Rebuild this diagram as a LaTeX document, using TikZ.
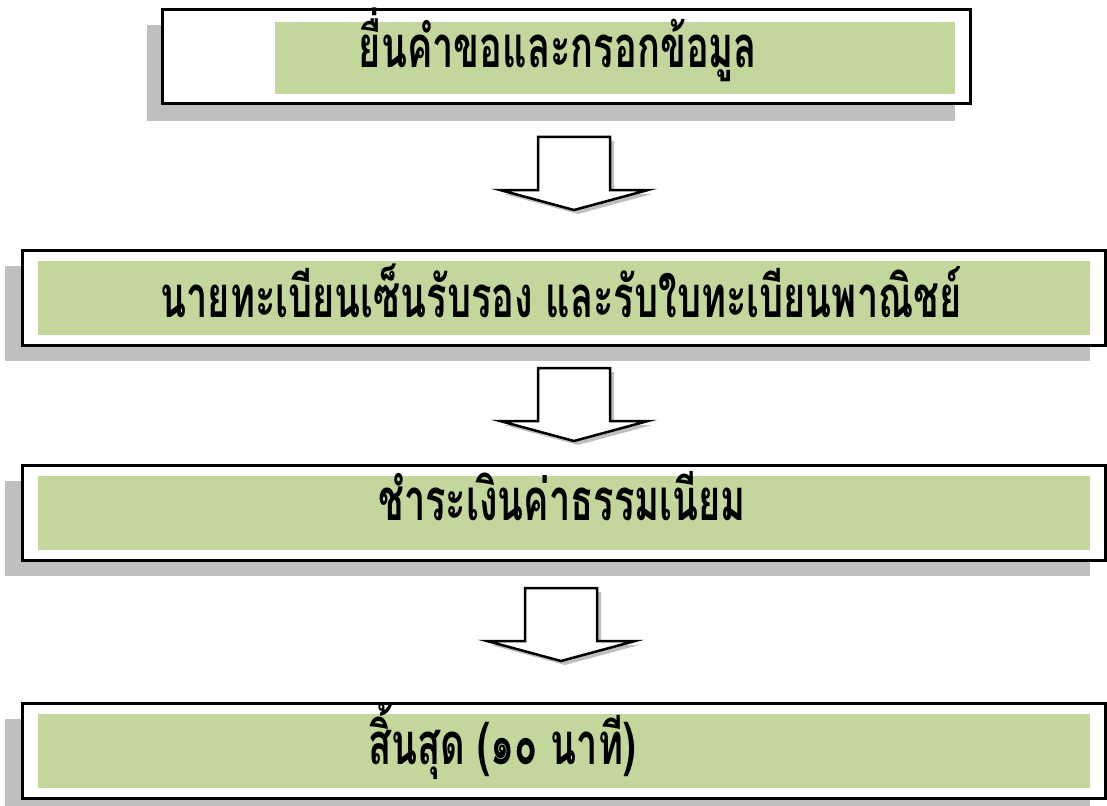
\documentclass[tikz,border=0pt]{standalone}
\usepackage{fontspec}
\newfontfamily\thaifont[Script=Thai]{Loma}
\definecolor{boxgreen}{RGB}{195,214,155}
\definecolor{shadowgray}{RGB}{191,191,191}
\tikzset{
  shade box/.style={fill=shadowgray},
  frame box/.style={draw=black,line width=3pt,fill=white},
  inner box/.style={fill=boxgreen},
  step text/.style={font=\thaifont\bfseries\fontsize{40}{48}\selectfont,inner sep=0pt,xscale=0.95,yscale=1.45},
  flow arrow/.style={draw=black,line width=2.5pt,fill=white,line join=miter},
}
\begin{document}
\begin{tikzpicture}[x=1pt,y=-1pt]
  \useasboundingbox (0,0) rectangle (1107,805);
  % box 1
  \fill[shade box] (147,25) rectangle (955,121);
  \draw[frame box] (162,10) rectangle (970,104);
  \fill[inner box] (275,22) rectangle (955,94);
  \node[step text] (apply) at (558,45) {ยื่นคำขอและกรอกข้อมูล};
  % boxes 2 to 4
  \foreach \top/\name in {250/sign,465/fee,703/done}{
    \fill[shade box] (5,\top+16) rectangle (1090,\top+111);
    \draw[frame box] (22,\top) rectangle (1105,\top+95);
    \fill[inner box] (38,\top+11) rectangle (1090,\top+85);
  }
  \node[step text] (sign) at (561,291) {นายทะเบียนเซ็นรับรอง และรับใบทะเบียนพาณิชย์};
  \node[step text] (fee) at (562,496) {ชำระเงินค่าธรรมเนียม};
  \node[step text] (done) at (502,741) {สิ้นสุด (๑๐ นาที)};
  % arrows
  \foreach \cx/\top in {574/137,574/368,561/588}{
    \fill[shade box] (\cx-32,\top+4) -- (\cx+40,\top+4) -- (\cx+40,\top+57)
      -- (\cx+78,\top+57) -- (\cx+4,\top+77) -- (\cx-70,\top+57)
      -- (\cx-32,\top+57) -- cycle;
    \draw[flow arrow] (\cx-36,\top) -- (\cx+36,\top) -- (\cx+36,\top+53)
      -- (\cx+74,\top+53) -- (\cx,\top+73) -- (\cx-74,\top+53)
      -- (\cx-36,\top+53) -- cycle;
  }
\end{tikzpicture}
\end{document}
